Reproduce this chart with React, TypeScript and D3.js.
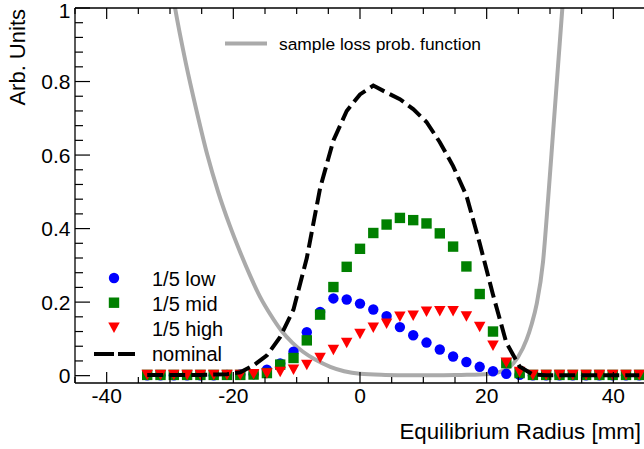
import React from "react";
import * as d3 from "d3";

// ---- data ----
const radiusX = [-33.6, -31.5, -29.4, -27.3, -25.2, -23.1, -21.0, -18.9, -16.8, -14.7, -12.6, -10.5, -8.4, -6.3, -4.2, -2.1, 0, 2.1, 4.2, 6.3, 8.4, 10.5, 12.6, 14.7, 16.8, 18.9, 21.0, 23.1, 25.2, 27.3, 29.4, 31.5, 33.6, 35.7, 37.8, 39.9, 42.0, 44.1];

const lowValues = [0.001, 0.001, 0.001, 0.001, 0.001, 0.001, 0.002, 0.003, 0.004, 0.016, 0.033, 0.065, 0.118, 0.173, 0.21, 0.207, 0.196, 0.18, 0.162, 0.132, 0.11, 0.09, 0.071, 0.052, 0.037, 0.024, 0.012, 0.005, 0.002, 0.001, 0.001, 0.001, 0.001, 0.001, 0.001, 0.001, 0.001, 0.001];
const midValues = [0.002, 0.002, 0.002, 0.002, 0.002, 0.002, 0.002, 0.002, 0.003, 0.007, 0.03, 0.048, 0.096, 0.166, 0.241, 0.296, 0.345, 0.388, 0.411, 0.429, 0.423, 0.414, 0.387, 0.351, 0.297, 0.222, 0.12, 0.034, 0.007, 0.002, 0.002, 0.002, 0.002, 0.002, 0.002, 0.002, 0.002, 0.002];
const highValues = [0.002, 0.002, 0.002, 0.002, 0.002, 0.002, 0.002, 0.002, 0.004, 0.006, 0.01, 0.016, 0.029, 0.048, 0.07, 0.089, 0.113, 0.13, 0.141, 0.16, 0.163, 0.174, 0.175, 0.175, 0.161, 0.132, 0.081, 0.035, 0.01, 0.002, 0.002, 0.002, 0.002, 0.002, 0.002, 0.002, 0.002, 0.002];
const nominalValues = [0.002, 0.002, 0.002, 0.002, 0.002, 0.003, 0.004, 0.009, 0.028, 0.055, 0.105, 0.18, 0.32, 0.51, 0.64, 0.72, 0.765, 0.789, 0.77, 0.752, 0.725, 0.69, 0.635, 0.57, 0.49, 0.36, 0.22, 0.09, 0.025, 0.003, 0.001, 0.001, 0.001, 0.001, 0.001, 0.001, 0.001, 0.001];

const lossX = [-31, -29.2, -27.5, -25.8, -24.1, -22.4, -20.6, -18.9, -17.3, -15.8, -14.1, -12.4, -10.7, -9, -7, -4.7, -2.5, 0, 4, 8, 12, 16, 19, 21.6, 23, 24.2, 25, 26.3, 27.1, 27.9, 28.9, 29.7, 30.5, 31.3, 31.95, 33];
const lossY = [1.2, 1.0, 0.85, 0.72, 0.6, 0.5, 0.41, 0.335, 0.27, 0.215, 0.165, 0.122, 0.09, 0.065, 0.043, 0.024, 0.012, 0.005, 0.002, 0.001, 0.001, 0.002, 0.003, 0.008, 0.016, 0.033, 0.052, 0.098, 0.14, 0.195, 0.31, 0.48, 0.665, 0.85, 1.0, 1.25];

const xTicks = [-40, -20, 0, 20, 40];
const xMinorTicks = [-45, -35, -30, -25, -15, -10, -5, 5, 10, 15, 25, 30, 35, 45];
const yTicks = [0, 0.2, 0.4, 0.6, 0.8, 1];
const yTickLabels = ["0", "0.2", "0.4", "0.6", "0.8", "1"];
const yMinorTicks = [0.04, 0.08, 0.12, 0.16, 0.24, 0.28, 0.32, 0.36, 0.44, 0.48, 0.52, 0.56, 0.64, 0.68, 0.72, 0.76, 0.84, 0.88, 0.92, 0.96];

const seriesLabels = ["1/5 low", "1/5 mid", "1/5 high", "nominal"];
const lossLabel = "sample loss prob. function";

const W = 644, H = 449;
const L = 75, R = 645, T = 8, B = 383;
const FONT = "'Liberation Sans', Arial, Helvetica, sans-serif";

const BLUE = "#0000ff";
const GREEN = "#008000";
const RED = "#ff0000";
const GREY = "#aaaaaa";

function Circle({ cx, cy }: { cx: number; cy: number }) {
  return <circle cx={cx} cy={cy} r={5.2} fill={BLUE} />;
}
function Square({ cx, cy }: { cx: number; cy: number }) {
  return <rect x={cx - 5.2} y={cy - 5.2} width={10.4} height={10.4} fill={GREEN} />;
}
function Tri({ cx, cy }: { cx: number; cy: number }) {
  const h = 10.5, w = 11.5;
  return <path d={`M${cx - w / 2},${cy - h / 2}L${cx + w / 2},${cy - h / 2}L${cx},${cy + h / 2}Z`} fill={RED} />;
}

export default function App() {
  const x = d3.scaleLinear().domain([-45, 45]).range([L, R]);
  const y = d3.scaleLinear().domain([-0.02, 1]).range([B, T]);

  const lossLine = d3
    .line<number>()
    .x((_, i) => x(lossX[i]))
    .y((d) => y(d))
    .curve(d3.curveMonotoneX)(lossY) as string;

  const nomLine = d3
    .line<number>()
    .x((_, i) => x(radiusX[i]))
    .y((d) => y(d))(nominalValues) as string;

  const dash = "16 6";

  return (
    <div style={{ position: "absolute", left: 0, top: 0 }}>
      <svg width={W} height={H} style={{ display: "block", background: "#fff" }} fontFamily={FONT}>
        <defs>
          <clipPath id="plotClip">
            <rect x={L} y={T} width={R - L} height={B - T} />
          </clipPath>
        </defs>

        {/* loss probability curve */}
        <path d={lossLine} fill="none" stroke={GREY} strokeWidth={4} clipPath="url(#plotClip)" />

        {/* markers */}
        <g>
          {radiusX.map((xv, i) => (
            <Circle key={"b" + i} cx={x(xv)} cy={y(lowValues[i])} />
          ))}
          {radiusX.map((xv, i) => (
            <Square key={"g" + i} cx={x(xv)} cy={y(midValues[i])} />
          ))}
          {radiusX.map((xv, i) => (
            <Tri key={"r" + i} cx={x(xv)} cy={y(highValues[i])} />
          ))}
        </g>

        {/* nominal */}
        <path d={nomLine} fill="none" stroke="#000" strokeWidth={4} strokeDasharray={dash} clipPath="url(#plotClip)" />

        {/* frame */}
        <g stroke="#000" strokeWidth={1.3} fill="none">
          <line x1={L} y1={B} x2={R} y2={B} />
          <line x1={L} y1={T} x2={R} y2={T} />
          <line x1={L} y1={T} x2={L} y2={B} />
        </g>

        {/* ticks */}
        <g stroke="#000" strokeWidth={1.2}>
          {xTicks.map((t) => (
            <g key={"xt" + t}>
              <line x1={x(t)} x2={x(t)} y1={B} y2={B - 11} />
              <line x1={x(t)} x2={x(t)} y1={T} y2={T + 11} />
            </g>
          ))}
          {xMinorTicks.map((t) => (
            <g key={"xm" + t}>
              <line x1={x(t)} x2={x(t)} y1={B} y2={B - 6} />
              <line x1={x(t)} x2={x(t)} y1={T} y2={T + 6} />
            </g>
          ))}
          {yTicks.map((t) => (
            <line key={"yt" + t} x1={L} x2={L + 15} y1={y(t)} y2={y(t)} />
          ))}
          {yMinorTicks.map((t) => (
            <line key={"ym" + t} x1={L} x2={L + 8} y1={y(t)} y2={y(t)} />
          ))}
        </g>

        {/* tick labels */}
        <g fontSize={21} fill="#000">
          {xTicks.map((t) => (
            <text key={"xl" + t} x={x(t)} y={403} textAnchor="middle">
              {t}
            </text>
          ))}
          {yTicks.map((t, i) => (
            <text key={"yl" + t} x={70.5} y={Math.max(y(t) + 7.5, 17.5)} textAnchor="end">
              {yTickLabels[i]}
            </text>
          ))}
        </g>

        {/* axis titles */}
        <text x={641} y={439} fontSize={22.3} textAnchor="end" fill="#000">
          Equilibrium Radius [mm]
        </text>
        <text transform="translate(25,9) rotate(-90)" fontSize={22} textAnchor="end" fill="#000">
          Arb. Units
        </text>

        {/* top legend */}
        <line x1={225} x2={267} y1={43.5} y2={43.5} stroke={GREY} strokeWidth={4} />
        <text x={279} y={49.5} fontSize={17.4} fill="#000">
          {lossLabel}
        </text>

        {/* lower legend */}
        <Circle cx={114} cy={278} />
        <Square cx={114} cy={302.7} />
        <Tri cx={114} cy={327.7} />
        <line x1={94} x2={135} y1={354} y2={354} stroke="#000" strokeWidth={4} strokeDasharray="20 4" />
        <g fontSize={20} fill="#000">
          <text x={152} y={286}>{seriesLabels[0]}</text>
          <text x={152} y={310.5}>{seriesLabels[1]}</text>
          <text x={152} y={335.5}>{seriesLabels[2]}</text>
          <text x={152} y={361}>{seriesLabels[3]}</text>
        </g>
      </svg>
    </div>
  );
}
